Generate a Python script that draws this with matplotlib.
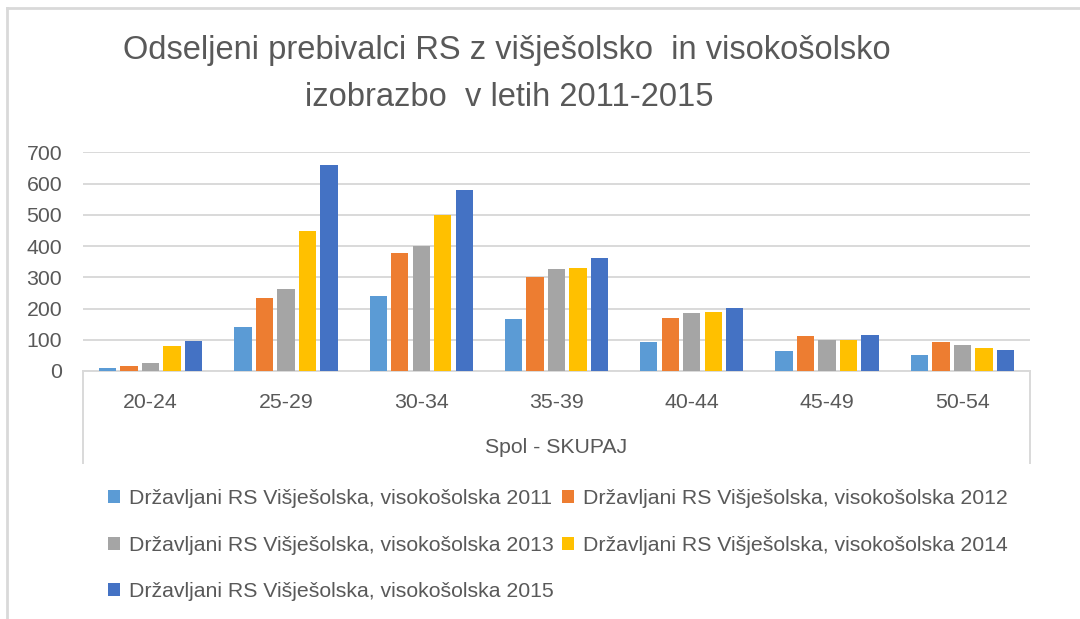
import matplotlib
matplotlib.use("Agg")
import matplotlib.pyplot as plt
from matplotlib.lines import Line2D
from matplotlib.patches import Patch
import numpy as np

plt.rcParams['font.family'] = ['Liberation Sans', 'DejaVu Sans']

categories = ["20-24", "25-29", "30-34", "35-39", "40-44", "45-49", "50-54"]
series_names = [
    "Državljani RS Višješolska, visokošolska 2011",
    "Državljani RS Višješolska, visokošolska 2012",
    "Državljani RS Višješolska, visokošolska 2013",
    "Državljani RS Višješolska, visokošolska 2014",
    "Državljani RS Višješolska, visokošolska 2015",
]
v2011 = [9, 141, 239, 165, 92, 63, 50]
v2012 = [17, 235, 378, 301, 170, 112, 92]
v2013 = [27, 264, 400, 326, 187, 100, 84]
v2014 = [79, 449, 498, 330, 190, 100, 75]
v2015 = [96, 658, 580, 363, 203, 116, 67]
series = [v2011, v2012, v2013, v2014, v2015]
colors = ["#5B9BD5", "#ED7D31", "#A5A5A5", "#FFC000", "#4472C4"]
yticks = [0, 100, 200, 300, 400, 500, 600, 700]
title_lines = ["Odseljeni prebivalci RS z višješolsko  in visokošolsko",
               "izobrazbo  v letih 2011-2015"]
xlabel = "Spol - SKUPAJ"

TXT = "#595959"
GRID = "#D9D9D9"
W, H = 1080, 619
fig = plt.figure(figsize=(W / 100, H / 100), dpi=100)
fig.patch.set_facecolor("white")

ax_l, ax_r, ax_b, ax_t = 83, 1030, 371, 152.3
ax = fig.add_axes([ax_l / W, 1 - ax_b / H, (ax_r - ax_l) / W, (ax_b - ax_t) / H])

x = np.arange(len(categories))
pitch = 0.159
bw = 0.128
for i, (vals, c) in enumerate(zip(series, colors)):
    ax.bar(x + (i - 2) * pitch, vals, width=bw, color=c, zorder=3,
           label=series_names[i])

ax.set_xlim(-0.5, len(categories) - 0.5)
ax.set_ylim(0, 700)
ax.set_yticks(yticks)
ax.set_yticklabels([str(t) for t in yticks])
ax.set_xticks(x)
ax.set_xticklabels(categories)
ax.yaxis.grid(True, color=GRID, linewidth=1.4, zorder=0)
ax.set_axisbelow(True)
for s in ["top", "right", "left"]:
    ax.spines[s].set_visible(False)
ax.spines["bottom"].set_color(GRID)
ax.spines["bottom"].set_linewidth(1.4)
ax.tick_params(axis="both", length=0, labelsize=15.3, labelcolor=TXT)
ax.tick_params(axis="y", pad=15)
ax.tick_params(axis="x", pad=16)

# multi-level category box lines
box_depth = (463 - ax_b) / (ax_b - ax_t)
for xv in (0, 1):
    ax.plot([xv, xv], [0, -box_depth], transform=ax.transAxes, color=GRID,
            linewidth=1.4, clip_on=False)
ax.text(0.5, -(447 - ax_b) / (ax_b - ax_t), xlabel, transform=ax.transAxes,
        ha="center", va="center", fontsize=15.3, color=TXT)

# title
fig.text(507 / W, 1 - 51 / H, title_lines[0], ha="center", va="center",
         fontsize=23.5, color=TXT)
fig.text(509 / W, 1 - 97 / H, title_lines[1], ha="center", va="center",
         fontsize=23.5, color=TXT)

# legend (row-major order with 2 columns)
handles = [Patch(facecolor=c, edgecolor="none") for c in colors]
order = [0, 2, 4, 1, 3]
leg = fig.legend([handles[i] for i in order], [series_names[i] for i in order],
                 ncol=2, loc="upper left", bbox_to_anchor=(108 / W, 1 - 489 / H),
                 frameon=False, fontsize=15.3, borderpad=0, borderaxespad=0,
                 handlelength=0.56, handleheight=0.56, handletextpad=0.45,
                 columnspacing=0.35, labelspacing=1.3)
for t in leg.get_texts():
    t.set_color(TXT)

# chart border (top and left)
fig.add_artist(Line2D([6.5 / W, 6.5 / W], [0, 1 - 8 / H], color=GRID, linewidth=2))
fig.add_artist(Line2D([6.5 / W, 1], [1 - 8 / H, 1 - 8 / H], color=GRID, linewidth=2))

fig.savefig("out.png", dpi=100, facecolor="white")
